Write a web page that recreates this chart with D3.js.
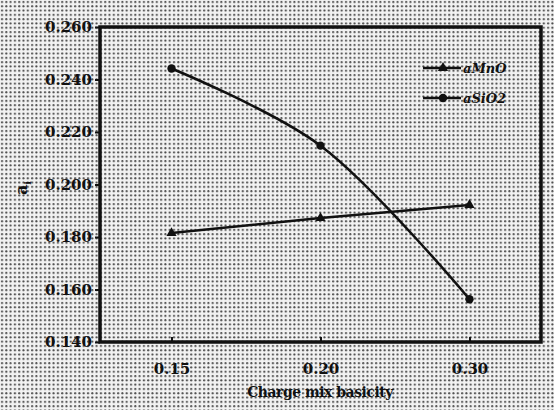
<!DOCTYPE html>
<html>
<head>
<meta charset="utf-8">
<script src="https://cdn.jsdelivr.net/npm/d3@7"></script>
<style>
  body { margin: 0; background: #fff; }
  svg text { font-family: "DejaVu Serif", "Liberation Serif", serif; }
</style>
</head>
<body>
<div id="chart"></div>
<script>
const categories = ["0.15", "0.20", "0.30"];
const aMnO = [0.1815, 0.1872, 0.1922];
const aSiO2 = [0.2442, 0.2148, 0.1563];
const yTicks = [0.140, 0.160, 0.180, 0.200, 0.220, 0.240, 0.260];

const W = 554, H = 410;
const margin = { top: 27, right: 13, bottom: 68, left: 100 };
const width = W - margin.left - margin.right;
const height = H - margin.top - margin.bottom;

const svg = d3.select("#chart")
    .append("svg")
    .attr("width", W)
    .attr("height", H);

// halftone-like dotted background
const defs = svg.append("defs");
const pat = defs.append("pattern")
    .attr("id", "dots")
    .attr("width", 4.3)
    .attr("height", 4.3)
    .attr("patternUnits", "userSpaceOnUse");
pat.append("rect").attr("width", 4.3).attr("height", 4.3).attr("fill", "#f2f2f2");
pat.append("circle").attr("cx", 2).attr("cy", 2).attr("r", 1.05).attr("fill", "#4a4a4a");

svg.append("rect")
    .attr("width", W)
    .attr("height", H)
    .attr("fill", "url(#dots)");

const g = svg.append("g")
    .attr("transform", `translate(${margin.left},${margin.top})`);

const x = d3.scalePoint()
    .domain(categories)
    .range([0, width])
    .padding(0.48);

const y = d3.scaleLinear()
    .domain([0.140, 0.260])
    .range([height, 0]);

// frame
g.append("rect")
    .attr("width", width)
    .attr("height", height)
    .attr("fill", "none")
    .attr("stroke", "#111")
    .attr("stroke-width", 3.5);

const yAxis = g.append("g")
    .call(d3.axisLeft(y).tickValues(yTicks).tickFormat(d3.format(".3f")).tickSize(5).tickPadding(3));
yAxis.select(".domain").remove();
yAxis.selectAll("line").attr("stroke", "#111").attr("stroke-width", 2);
yAxis.selectAll("text")
    .attr("fill", "#111")
    .style("font-size", "15px")
    .style("font-weight", "bold");

const xAxis = g.append("g")
    .attr("transform", `translate(0,${height})`)
    .call(d3.axisBottom(x).tickSize(-5).tickPadding(21));
xAxis.select(".domain").remove();
xAxis.selectAll("line").attr("stroke", "#111").attr("stroke-width", 2);
xAxis.selectAll("text")
    .attr("fill", "#111")
    .style("font-size", "15px")
    .style("font-weight", "bold");

// axis titles
svg.append("text")
    .attr("x", 320)
    .attr("y", 397)
    .attr("text-anchor", "middle")
    .attr("fill", "#111")
    .style("font-size", "14px")
    .style("font-weight", "bold")
    .style("letter-spacing", "-0.5px")
    .text("Charge mix basicity");

const yl = svg.append("text")
    .attr("transform", "translate(27,188) rotate(-90)")
    .attr("text-anchor", "middle")
    .attr("fill", "#111")
    .style("font-size", "16px")
    .style("font-weight", "bold");
yl.append("tspan").text("a");
yl.append("tspan").attr("dy", 4).style("font-size", "10px").text("i");

// series
const line = d3.line()
    .x((d, i) => x(categories[i]))
    .y(d => y(d));

g.append("path")
    .datum(aMnO)
    .attr("fill", "none")
    .attr("stroke", "#111")
    .attr("stroke-width", 2.5)
    .attr("d", line);

g.append("path")
    .datum(aSiO2)
    .attr("fill", "none")
    .attr("stroke", "#111")
    .attr("stroke-width", 2.5)
    .attr("d", line.curve(d3.curveCatmullRom.alpha(0.5)));

const tri = d3.symbol().type(d3.symbolTriangle).size(45);
const circ = d3.symbol().type(d3.symbolCircle).size(55);

g.selectAll(".mn")
    .data(aMnO)
    .enter()
    .append("path")
    .attr("class", "mn")
    .attr("transform", (d, i) => `translate(${x(categories[i])},${y(d)})`)
    .attr("d", tri)
    .attr("fill", "#111");

g.selectAll(".si")
    .data(aSiO2)
    .enter()
    .append("path")
    .attr("class", "si")
    .attr("transform", (d, i) => `translate(${x(categories[i])},${y(d)})`)
    .attr("d", circ)
    .attr("fill", "#111");

// legend
const legend = [
    { name: "aMnO", sym: tri, y: 68 },
    { name: "aSiO2", sym: circ, y: 98 }
];
const lg = svg.selectAll(".legend")
    .data(legend)
    .enter()
    .append("g")
    .attr("class", "legend")
    .attr("transform", d => `translate(423,${d.y})`);
lg.append("line")
    .attr("x1", 0).attr("x2", 38)
    .attr("stroke", "#111").attr("stroke-width", 2.5);
lg.append("path")
    .attr("transform", "translate(20,0)")
    .attr("d", d => d.sym())
    .attr("fill", "#111");
lg.append("text")
    .attr("x", 40)
    .attr("dy", "0.35em")
    .attr("fill", "#111")
    .style("font-size", "13px")
    .style("font-style", "italic")
    .style("font-weight", "bold")
    .text(d => d.name);
</script>
</body>
</html>
